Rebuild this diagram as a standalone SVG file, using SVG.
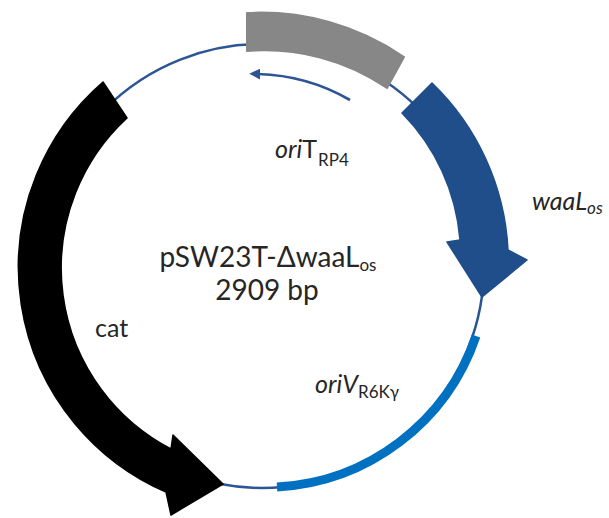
<svg xmlns="http://www.w3.org/2000/svg" width="609" height="518" viewBox="0 0 609 518">
  <style>
    .backbone { fill: none; stroke: #2b5595; stroke-width: 2.5; }
    .txt { font-family: Lato, "Open Sans", "Liberation Sans", sans-serif; fill: #262626; }
    .lbl { font-size: 25px; }
    .title { font-size: 28px; }
    .sub { font-size: 17px; }
    .it { font-style: italic; }
  </style>
  <defs>
    <marker id="head" viewBox="0 0 10 10" refX="2" refY="5" markerWidth="4.2" markerHeight="4.2" orient="auto" markerUnits="strokeWidth">
      <path d="M0,0 L10,5 L0,10 Z" fill="#2b5595"/>
    </marker>
  </defs>

  <rect width="609" height="518" fill="#ffffff"/>

  <!-- plasmid backbone and the small direction arrow -->
  <g id="connectors">
    <circle class="backbone" cx="262" cy="266" r="222"/>
    <path d="M350,100 A194,194 0 0 0 258,74" fill="none" stroke="#2b5595" stroke-width="2.6" marker-end="url(#head)"/>
  </g>

  <g id="oriT">
    <path d="M247,13 A253,253 0 0 1 404,57 L387,88 A217,217 0 0 0 247,51 Z" fill="#878787" stroke="#878787" stroke-width="2" stroke-linejoin="round"/>
    <text class="txt lbl" x="275" y="158"><tspan class="it">ori</tspan>T<tspan class="sub" dx="1" dy="8">RP4</tspan></text>
  </g>

  <g id="waaL">
    <path d="M432,83 A249,249 0 0 1 508,250 L527,260 L482,297 L447,242 L460,240 A204,204 0 0 0 402,113 Z" fill="#1f4e8a" stroke="#1f4e8a" stroke-width="1.5" stroke-linejoin="round"/>
    <text class="txt lbl it" x="532" y="210">waaL<tspan class="sub" dy="4">os</tspan></text>
  </g>

  <g id="oriV">
    <path d="M476,336 A223,223 0 0 1 277,487" fill="none" stroke="#0070c0" stroke-width="9"/>
    <text class="txt lbl" x="315" y="393"><tspan class="it">oriV</tspan><tspan class="sub" dy="5">R6Kγ</tspan></text>
  </g>

  <g id="cat">
    <path d="M103,82 A245,245 0 0 0 166,492 L171,515 L223,484 L173,435 L171,449 A204,204 0 0 1 127,118 Z" fill="#000000" stroke="#000000" stroke-width="1.5" stroke-linejoin="round"/>
    <text class="txt lbl" x="95" y="337">cat</text>
  </g>

  <g id="plasmid-name">
    <text class="txt title" x="268" y="267" text-anchor="middle">pSW23T-ΔwaaL<tspan class="sub" font-size="19" dy="4">os</tspan></text>
    <text class="txt title" x="267" y="300" text-anchor="middle">2909 bp</text>
  </g>
</svg>
